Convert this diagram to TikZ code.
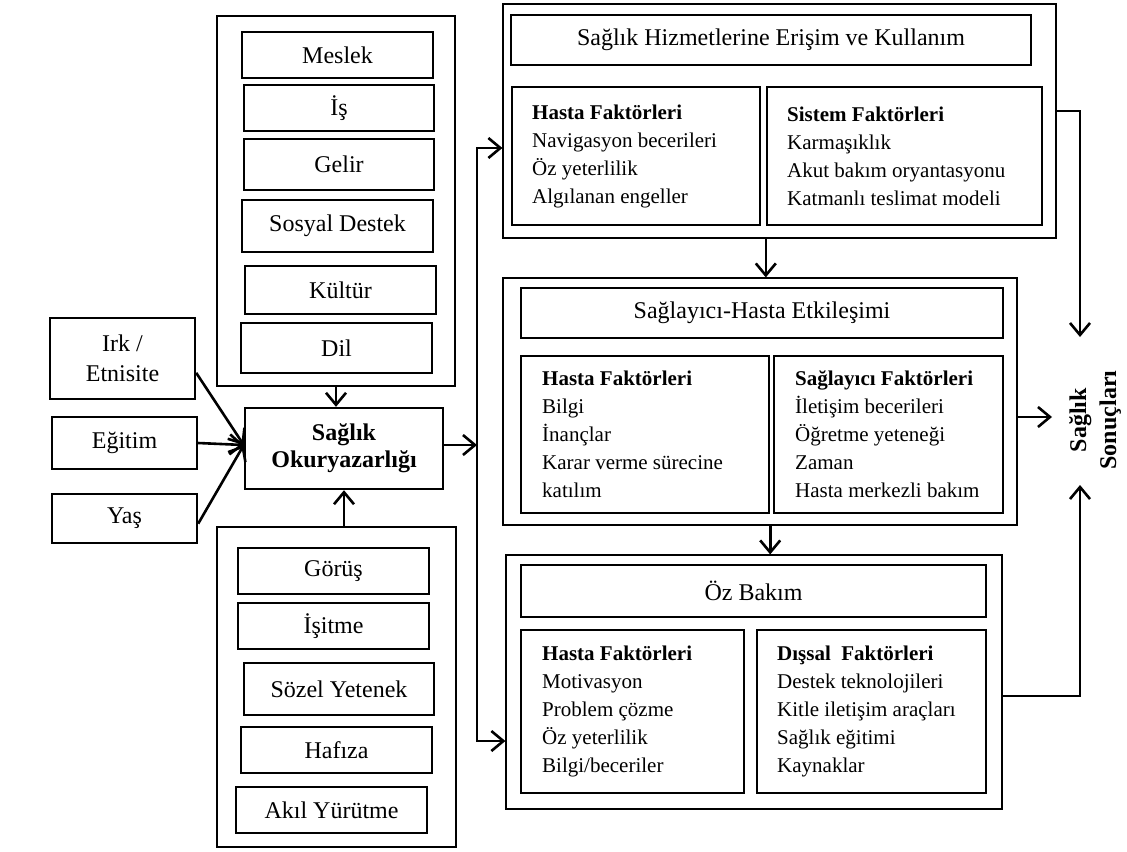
\documentclass[tikz,border=0pt]{standalone}
\usepackage{fontspec}
\setmainfont{Liberation Serif}
\usetikzlibrary{fit,arrows.meta}

\begin{document}
\begin{tikzpicture}[
        x=0.5pt,
        y=-0.5pt,
        grup/.style={
            draw,
            line width=0.6pt,
            inner sep=0pt
        },
        kutu/.style={
            draw,
            line width=1.2pt,
            inner sep=0pt,
            align=center,
            minimum width=95.5pt,
            minimum height=23pt,
            font=\fontsize{12}{15}\selectfont
        },
        yazi/.style={
            align=left,
            inner sep=0pt,
            anchor=west,
            font=\fontsize{10.5}{14}\selectfont
        },
        sonucyazi/.style={
            align=center,
            rotate=90,
            font=\fontsize{12}{15}\selectfont\bfseries
        },
        ok/.style={
            -{Straight Barb[length=6pt,width=10pt]},
            line width=1.3pt
        },
        ikiok/.style={
            {Straight Barb[length=6pt,width=10pt]}-{Straight Barb[length=6pt,width=10pt]},
            line width=1.3pt
        }
    ]
        \useasboundingbox (0,0) rectangle (1127,851);

        \node (sosyal) [grup, fit={(217,16) (455,386)}] {};
        \node (meslek) [kutu] at (337.5,55) {Meslek};
        \node (is) [kutu, minimum width=95pt] at (339,108) {İş};
        \node (gelir) [kutu, minimum width=95pt, minimum height=25.5pt] at (339,164.5) {Gelir};
        \node (destek) [kutu, minimum height=26pt] at (337.5,226) {Sosyal Destek};
        \node (kultur) [kutu, minimum height=24pt] at (340.5,290) {Kültür};
        \node (dil) [kutu, minimum height=25pt] at (336.5,348) {Dil};

        \node (irk) [kutu, minimum width=72.5pt, minimum height=40.5pt] at (122.5,358.5) {Irk /\\Etnisite};
        \node (egitim) [kutu, minimum width=72.5pt, minimum height=26pt] at (124.5,443) {Eğitim};
        \node (yas) [kutu, minimum width=72.5pt, minimum height=24.5pt] at (124.5,518.5) {Yaş};
        \node (okur) [kutu, minimum width=99pt, minimum height=40.5pt, font=\fontsize{12}{13.5}\selectfont\bfseries] at (344,448.5) {Sağlık\\Okuryazarlığı};

        \node (bilissel) [grup, fit={(217,527) (456,847)}] {};
        \node (gorus) [kutu] at (333.5,571) {Görüş};
        \node (isitme) [kutu] at (333.5,626) {İşitme};
        \node (sozel) [kutu, minimum width=95pt, minimum height=26pt] at (339,689) {Sözel Yetenek};
        \node (hafiza) [kutu] at (336.5,750) {Hafıza};
        \node (akil) [kutu] at (331.5,810) {Akıl Yürütme};

        \node (erisim) [grup, fit={(503,4) (1056,238)}] {};
        \node (erisimBaslik) [kutu, minimum width=260pt, minimum height=25pt] at (771,40) {Sağlık Hizmetlerine Erişim ve Kullanım};
        \node (erisimHasta) [kutu, fit={(512,87) (760,225)}] {};
        \node (erisimSistem) [kutu, fit={(767,87) (1042,225)}] {};
        \node (erisimHastaYazi) [yazi] at ([xshift=10.5pt]erisimHasta.west) {\textbf{Hasta Faktörleri}\\Navigasyon becerileri\\Öz yeterlilik\\Algılanan engeller};
        \node (erisimSistemYazi) [yazi] at ([xshift=10.5pt]erisimSistem.west) {\textbf{Sistem Faktörleri}\\Karmaşıklık\\Akut bakım oryantasyonu\\Katmanlı teslimat modeli};

        \node (etkilesim) [grup, fit={(503,278) (1017,525)}] {};
        \node (etkilesimBaslik) [kutu, minimum width=241pt, minimum height=25pt] at (762,313) {Sağlayıcı-Hasta Etkileşimi};
        \node (etkilesimHasta) [kutu, fit={(521,356) (769,513)}] {};
        \node (etkilesimSaglayici) [kutu, fit={(774,356) (1003,513)}] {};
        \node (etkilesimHastaYazi) [yazi] at ([xshift=11pt]etkilesimHasta.west) {\textbf{Hasta Faktörleri}\\Bilgi\\İnançlar\\Karar verme sürecine\\katılım};
        \node (etkilesimSaglayiciYazi) [yazi] at ([xshift=11pt]etkilesimSaglayici.west) {\textbf{Sağlayıcı Faktörleri}\\İletişim becerileri\\Öğretme yeteneği\\Zaman\\Hasta merkezli bakım};

        \node (ozbakim) [grup, fit={(506,555) (1002,809)}] {};
        \node (ozbakimBaslik) [kutu, minimum width=232.5pt, minimum height=26pt] at (753.5,591) {Öz Bakım};
        \node (ozbakimHasta) [kutu, fit={(521,630) (744,793)}] {};
        \node (ozbakimDissal) [kutu, fit={(757,630) (986,793)}] {};
        \node (ozbakimHastaYazi) [yazi] at ([xshift=11pt]ozbakimHasta.west) {\textbf{Hasta Faktörleri}\\Motivasyon\\Problem çözme\\Öz yeterlilik\\Bilgi/beceriler};
        \node (ozbakimDissalYazi) [yazi] at ([xshift=10.5pt]ozbakimDissal.west) {\textbf{Dışsal\ \ Faktörleri}\\Destek teknolojileri\\Kitle iletişim araçları\\Sağlık eğitimi\\Kaynaklar};

        \node (sonuc) [sonucyazi] at (1095,420) {Sağlık\\Sonuçları};

        \coordinate (dagitim) at (477,445);
        \coordinate (dagitimUst) at (477,148);
        \coordinate (dagitimAlt) at (477,741);
        \coordinate (ustKose) at (1080,111);
        \coordinate (altKose) at (1080,696);
        \coordinate (sonucUst) at (1080,337);
        \coordinate (sonucAlt) at (1080,485);
        \coordinate (sonucSol) at (1052,417);

        \draw[ok] (sosyal.south) -- (sosyal.south |- okur.north);
        \draw[ok] (okur.south |- bilissel.north) -- (okur.south);
        \draw[ok] (irk.-11) -- (okur.178);
        \draw[ok] (egitim.east) -- (okur.178);
        \draw[ok] (yas.-4) -- (okur.178);
        \draw[ok] (okur.east |- dagitim) -- (dagitim);
        \draw[ikiok] (dagitimUst -| erisim.west) -- (dagitimUst) -- (dagitimAlt) -- (dagitimAlt -| ozbakim.west);
        \draw[ok] (erisimSistem.south west |- erisim.south) -- (erisimSistem.south west |- etkilesim.north);
        \draw[ok] (etkilesimHasta.south east |- etkilesim.south) -- (etkilesimHasta.south east |- ozbakim.north);
        \draw[ok] (ustKose -| erisim.east) -- (ustKose) -- (sonucUst);
        \draw[ok] (altKose -| ozbakim.east) -- (altKose) -- (sonucAlt);
        \draw[ok] (sonucSol -| etkilesim.east) -- (sonucSol);
    \end{tikzpicture}
\end{document}
